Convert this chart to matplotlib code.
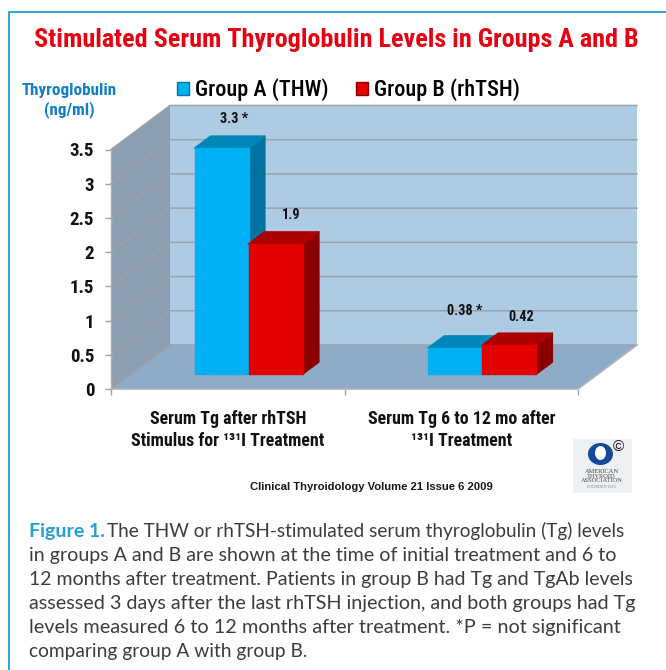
import matplotlib
matplotlib.use("Agg")
import matplotlib.pyplot as plt
from matplotlib.patches import Polygon, Patch, Rectangle, Ellipse

W, H = 666, 670
categories = ["Serum Tg after rhTSH\nStimulus for ¹³¹I Treatment", "Serum Tg 6 to 12 mo after\n¹³¹I Treatment"]
group_a = [3.3, 0.38]
group_b = [1.9, 0.42]
labels_a = ["3.3 *", "0.38 *"]
labels_b = ["1.9", "0.42"]
y_ticks = [0, 0.5, 1, 1.5, 2, 2.5, 3, 3.5]
y_tick_labels = ["0", "0.5", "1", "1.5", "2", "2.5", "3", "3.5"]
series_names = ["Group A (THW)", "Group B (rhTSH)"]
title = "Stimulated Serum Thyroglobulin Levels in Groups A and B"
y_title = "Thyroglobulin\n(ng/ml)"
footer = "Clinical Thyroidology Volume 21 Issue 6 2009"
caption = [
    "in groups A and B are shown at the time of initial treatment and 6 to",
    "12 months after treatment. Patients in group B had Tg and TgAb levels",
    "assessed 3 days after the last rhTSH injection, and both groups had Tg",
    "levels measured 6 to 12 months after treatment. *P = not significant",
    "comparing group A with group B.",
]
caption_head = "Figure 1."
caption_first = "The THW or rhTSH-stimulated serum thyroglobulin (Tg) levels"

plt.rcParams["font.family"] = ["Roboto Condensed", "Liberation Sans", "DejaVu Sans"]
SANS = ["Liberation Sans", "DejaVu Sans"]
CAPF = ["Lato", "Liberation Sans", "DejaVu Sans"]

fig = plt.figure(figsize=(W / 100, H / 100), dpi=100, facecolor="white")

pg = fig.add_axes([0, 0, 1, 1], zorder=0)
pg.set_xlim(0, W); pg.set_ylim(H, 0); pg.axis("off")
pg.plot([666, 9, 9], [11.5, 11.5, 670], color="#1c9fd6", lw=1.3, solid_joinstyle="miter")

L, R, B, T = 111, 578, 389, 149.5
ax = fig.add_axes([L / W, 1 - B / H, (R - L) / W, (B - T) / H], zorder=1)
ax.set_xlim(-0.5, 1.5); ax.set_ylim(0, 3.5)
ax.patch.set_alpha(0)
for s in ax.spines.values():
    s.set_visible(False)
PX = 2 / (R - L)
PY = 3.5 / (B - T)
DX, DY = 59 * PX, 44 * PY
x0, x1, ymax = -0.5, 1.5, 3.5
GRID = "#98a2ac"

def poly(pts, fc, z, ec="none", lw=0):
    ax.add_patch(Polygon(pts, closed=True, fc=fc, ec=ec, lw=lw, zorder=z, clip_on=False, joinstyle="round"))

poly([(x0 + DX, DY), (x1 + DX, DY), (x1 + DX, ymax + DY), (x0 + DX, ymax + DY)], "#aecbe4", 1)
poly([(x0, 0), (x0 + DX, DY), (x0 + DX, ymax + DY), (x0, ymax)], "#8c9eb0", 1)
poly([(x0, 0), (x1, 0), (x1 + DX, DY), (x0 + DX, DY)], "#8eacc8", 1)
for t in y_ticks:
    ax.plot([x0, x0 + DX, x1 + DX], [t, t + DY, t + DY], color=GRID, lw=1.1, zorder=2, clip_on=False)
ax.plot([x0, x0], [0, ymax], color="#a8aeb4", lw=1, zorder=2, clip_on=False)
ax.plot([x0, x1, x1 + DX], [0, 0, DY], color="#b0b4b8", lw=1.2, zorder=2, clip_on=False)

BW = 54 * PX
BASE = 15 * PY
OX, OY = 16 * PX, 12 * PY
SHIFT = 0.09
styles = [("#00b0f2", "#0073a3", "#0086b8"), ("#e20000", "#8a0000", "#ad0000")]

def bar3d(xc, v, st, z):
    f, s, t = st
    xl, xr, yt = xc - BW / 2, xc + BW / 2, BASE + v
    poly([(xr, BASE), (xr + OX, BASE + OY), (xr + OX, yt + OY), (xr, yt)], s, z, ec=s, lw=1.2)
    poly([(xl, yt), (xr, yt), (xr + OX, yt + OY), (xl + OX, yt + OY)], t, z, ec=t, lw=1.2)
    ax.bar(xc, v, BW, bottom=BASE, color=f, ec=f, lw=1, joinstyle="round", zorder=z, clip_on=False)

for i in range(len(categories)):
    c = i + SHIFT
    bar3d(c - BW / 2, group_a[i], styles[0], 3 + i)
    bar3d(c + BW / 2, group_b[i], styles[1], 3.5 + i)

label_offsets = [[(12, 29), (15, 29)], [(9, 37), (12, 28)]]
for i in range(len(categories)):
    c = i + SHIFT
    for j, (vals, labs, xc) in enumerate([(group_a, labels_a, c - BW / 2), (group_b, labels_b, c + BW / 2)]):
        ox, oy = label_offsets[i][j]
        ax.annotate(labs[i], (xc, BASE + vals[i]), xytext=(ox * 0.72, oy * 0.72), textcoords="offset points",
                    ha="center", va="center", fontsize=10.3, fontweight="bold", color="#111111",
                    zorder=8, annotation_clip=False)

ax.set_yticks(y_ticks, y_tick_labels, fontsize=13.6, fontweight="bold", color="#111111")
ax.tick_params(axis="y", length=4, width=1, color="#a0a4a8", pad=8)
ax.set_xticks(range(len(categories)), categories, fontsize=12.9, fontweight="bold", color="#111111", linespacing=1.32)
ax.tick_params(axis="x", which="major", length=0, pad=15)
ax.set_xticks([-0.5, 0.5, 1.5], minor=True)
ax.tick_params(axis="x", which="minor", length=4, width=1, color="#a0a4a8")

handles = [Patch(fc="#00b0f2", ec="#0073a3", lw=1), Patch(fc="#e20000", ec="#8a0000", lw=1)]
ax.legend(handles, series_names, loc="center left", bbox_to_anchor=((177 - L) / (R - L), (B - 90) / (B - T)),
          bbox_transform=ax.transAxes, ncols=2, frameon=False,
          prop={"weight": "medium", "size": 16}, handlelength=0.55, handleheight=0.55,
          handletextpad=0.25, columnspacing=1.25, borderaxespad=0, borderpad=0)

pg.text(336, 40, title, ha="center", va="center", fontsize=18.8, fontweight="bold", color="#e60012")
pg.text(69, 100.5, y_title, ha="center", va="center", fontsize=12.3, fontweight="bold", color="#0f7fc8", linespacing=1.3)
pg.text(371.5, 487, footer, ha="center", va="center", fontsize=8.13, fontweight="bold", color="#15181c", family=SANS)

pg.add_patch(Rectangle((573, 439), 59, 54, fc="#eef1f4", ec="none"))
pg.add_patch(Ellipse((600.5, 454), 25, 22, fc="#16479a", ec="none"))
pg.add_patch(Ellipse((600.5, 453), 11, 14, fc="white", ec="none"))
pg.text(618, 447, "©", ha="center", va="center", fontsize=11, color="#111111", family=SANS)
pg.text(601.5, 476, "AMERICAN\nTHYROID\nASSOCIATION", ha="center", va="center", fontsize=4.6, color="#444444",
        family="Liberation Serif", linespacing=0.95)
pg.text(601.5, 487.5, "FOUNDED 1923", ha="center", va="center", fontsize=3, color="#777777", family="Liberation Serif")

# caption: each line is sized so that it ends where the reference line ends
renderer = fig.canvas.get_renderer()

def fit(x, y, s, xend, size=14.5, **kw):
    t = pg.text(x, y, s, ha="left", va="center", fontsize=size, **kw)
    e = t.get_window_extent(renderer)
    t.set_fontsize(size * (xend - x) / e.width)
    return t

head = pg.text(29, 531, caption_head, ha="left", va="center", fontsize=14, fontweight="bold", color="#229fd4", family=CAPF)
hx = head.get_window_extent(renderer).x1
line_ends = [626, 616, 633, 634, 622, 306]
fit(hx + 2, 531, caption_first, line_ends[0], color="#3c3c3c", family=CAPF)
for k, line in enumerate(caption):
    fit(29, 555 + 24 * k, line, line_ends[k + 1], color="#3c3c3c", family=CAPF)

fig.savefig("out.png", dpi=100, facecolor="white")
